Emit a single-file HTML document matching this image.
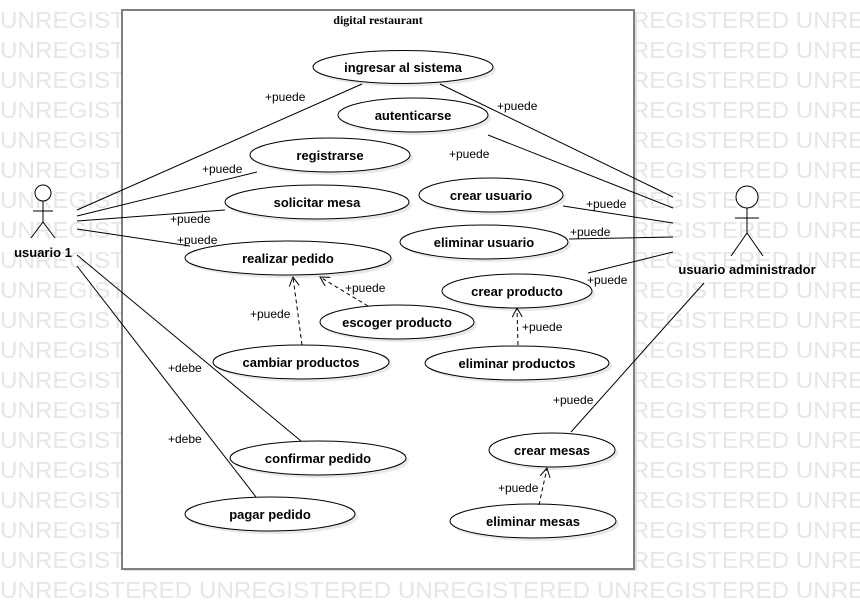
<!DOCTYPE html>
<html><head><meta charset="utf-8"><style>
html,body{margin:0;padding:0;background:#fff;overflow:hidden;}
svg{display:block;}
.wm{font-family:"Liberation Sans",sans-serif;font-size:23px;fill:#e6e6e6;}
.uc{font-family:"Liberation Sans",sans-serif;font-size:13px;font-weight:bold;fill:#000;text-anchor:middle;}
.lb{font-family:"Liberation Sans",sans-serif;font-size:12px;fill:#000;}
</style></head><body>
<svg width="860" height="609" viewBox="0 0 860 609" xmlns="http://www.w3.org/2000/svg">
<defs>
<marker id="ar" markerWidth="12" markerHeight="12" refX="10" refY="6" orient="auto" markerUnits="userSpaceOnUse">
<path d="M1,1 L10,6 L1,11" fill="none" stroke="#000" stroke-width="1"/>
</marker>
</defs>
<g class="wm">
<text x="0" y="28" textLength="988" lengthAdjust="spacingAndGlyphs">UNREGISTERED UNREGISTERED UNREGISTERED UNREGISTERED UNREGISTERED</text>
<text x="0" y="58" textLength="988" lengthAdjust="spacingAndGlyphs">UNREGISTERED UNREGISTERED UNREGISTERED UNREGISTERED UNREGISTERED</text>
<text x="0" y="88" textLength="988" lengthAdjust="spacingAndGlyphs">UNREGISTERED UNREGISTERED UNREGISTERED UNREGISTERED UNREGISTERED</text>
<text x="0" y="118" textLength="988" lengthAdjust="spacingAndGlyphs">UNREGISTERED UNREGISTERED UNREGISTERED UNREGISTERED UNREGISTERED</text>
<text x="0" y="148" textLength="988" lengthAdjust="spacingAndGlyphs">UNREGISTERED UNREGISTERED UNREGISTERED UNREGISTERED UNREGISTERED</text>
<text x="0" y="178" textLength="988" lengthAdjust="spacingAndGlyphs">UNREGISTERED UNREGISTERED UNREGISTERED UNREGISTERED UNREGISTERED</text>
<text x="0" y="208" textLength="988" lengthAdjust="spacingAndGlyphs">UNREGISTERED UNREGISTERED UNREGISTERED UNREGISTERED UNREGISTERED</text>
<text x="0" y="238" textLength="988" lengthAdjust="spacingAndGlyphs">UNREGISTERED UNREGISTERED UNREGISTERED UNREGISTERED UNREGISTERED</text>
<text x="0" y="268" textLength="988" lengthAdjust="spacingAndGlyphs">UNREGISTERED UNREGISTERED UNREGISTERED UNREGISTERED UNREGISTERED</text>
<text x="0" y="298" textLength="988" lengthAdjust="spacingAndGlyphs">UNREGISTERED UNREGISTERED UNREGISTERED UNREGISTERED UNREGISTERED</text>
<text x="0" y="328" textLength="988" lengthAdjust="spacingAndGlyphs">UNREGISTERED UNREGISTERED UNREGISTERED UNREGISTERED UNREGISTERED</text>
<text x="0" y="358" textLength="988" lengthAdjust="spacingAndGlyphs">UNREGISTERED UNREGISTERED UNREGISTERED UNREGISTERED UNREGISTERED</text>
<text x="0" y="388" textLength="988" lengthAdjust="spacingAndGlyphs">UNREGISTERED UNREGISTERED UNREGISTERED UNREGISTERED UNREGISTERED</text>
<text x="0" y="418" textLength="988" lengthAdjust="spacingAndGlyphs">UNREGISTERED UNREGISTERED UNREGISTERED UNREGISTERED UNREGISTERED</text>
<text x="0" y="448" textLength="988" lengthAdjust="spacingAndGlyphs">UNREGISTERED UNREGISTERED UNREGISTERED UNREGISTERED UNREGISTERED</text>
<text x="0" y="478" textLength="988" lengthAdjust="spacingAndGlyphs">UNREGISTERED UNREGISTERED UNREGISTERED UNREGISTERED UNREGISTERED</text>
<text x="0" y="508" textLength="988" lengthAdjust="spacingAndGlyphs">UNREGISTERED UNREGISTERED UNREGISTERED UNREGISTERED UNREGISTERED</text>
<text x="0" y="538" textLength="988" lengthAdjust="spacingAndGlyphs">UNREGISTERED UNREGISTERED UNREGISTERED UNREGISTERED UNREGISTERED</text>
<text x="0" y="568" textLength="988" lengthAdjust="spacingAndGlyphs">UNREGISTERED UNREGISTERED UNREGISTERED UNREGISTERED UNREGISTERED</text>
<text x="0" y="598" textLength="988" lengthAdjust="spacingAndGlyphs">UNREGISTERED UNREGISTERED UNREGISTERED UNREGISTERED UNREGISTERED</text>
</g>
<rect x="124" y="12" width="513" height="559" fill="#e2e2e2"/>
<rect x="122" y="10" width="512" height="559" fill="#fff" stroke="#7f7f7f" stroke-width="2"/>
<text x="378" y="24" text-anchor="middle" font-family="Liberation Serif,serif" font-size="12" font-weight="bold">digital restaurant</text>

<g fill="#e8e8e8">
<ellipse cx="406" cy="70" rx="90" ry="16.5"/>
<ellipse cx="416" cy="118" rx="75" ry="17"/>
<ellipse cx="333" cy="158" rx="80" ry="17"/>
<ellipse cx="320" cy="205" rx="92" ry="17"/>
<ellipse cx="494" cy="198" rx="72" ry="17"/>
<ellipse cx="487" cy="245" rx="84" ry="17"/>
<ellipse cx="291" cy="261" rx="103" ry="17"/>
<ellipse cx="520" cy="294" rx="75" ry="17"/>
<ellipse cx="400" cy="325" rx="77" ry="17"/>
<ellipse cx="304" cy="365" rx="88" ry="17"/>
<ellipse cx="520" cy="366" rx="92" ry="17"/>
<ellipse cx="555" cy="453" rx="63" ry="17"/>
<ellipse cx="321" cy="461" rx="88" ry="17"/>
<ellipse cx="273" cy="517" rx="85" ry="17"/>
<ellipse cx="536" cy="524" rx="83" ry="17"/>
</g>
<g fill="#fff" stroke="#000" stroke-width="1">
<ellipse cx="403" cy="67" rx="90" ry="16.5"/>
<ellipse cx="413" cy="115" rx="75" ry="17"/>
<ellipse cx="330" cy="155" rx="80" ry="17"/>
<ellipse cx="317" cy="202" rx="92" ry="17"/>
<ellipse cx="491" cy="195" rx="72" ry="17"/>
<ellipse cx="484" cy="242" rx="84" ry="17"/>
<ellipse cx="288" cy="258" rx="103" ry="17"/>
<ellipse cx="517" cy="291" rx="75" ry="17"/>
<ellipse cx="397" cy="322" rx="77" ry="17"/>
<ellipse cx="301" cy="362" rx="88" ry="17"/>
<ellipse cx="517" cy="363" rx="92" ry="17"/>
<ellipse cx="552" cy="450" rx="63" ry="17"/>
<ellipse cx="318" cy="458" rx="88" ry="17"/>
<ellipse cx="270" cy="514" rx="85" ry="17"/>
<ellipse cx="533" cy="521" rx="83" ry="17"/>
</g>
<g class="uc">
<text x="403" y="72">ingresar al sistema</text>
<text x="413" y="120">autenticarse</text>
<text x="330" y="160">registrarse</text>
<text x="317" y="207">solicitar mesa</text>
<text x="491" y="200">crear usuario</text>
<text x="484" y="247">eliminar usuario</text>
<text x="288" y="263">realizar pedido</text>
<text x="517" y="296">crear producto</text>
<text x="397" y="327">escoger producto</text>
<text x="301" y="367">cambiar productos</text>
<text x="517" y="368">eliminar productos</text>
<text x="552" y="455">crear mesas</text>
<text x="318" y="463">confirmar pedido</text>
<text x="270" y="519">pagar pedido</text>
<text x="533" y="526">eliminar mesas</text>
</g>

<g stroke="#000" stroke-width="1" fill="none">
<line x1="77" y1="210" x2="362" y2="84"/>
<line x1="77" y1="216" x2="257" y2="172"/>
<line x1="77" y1="221" x2="225" y2="210"/>
<line x1="77" y1="229" x2="190" y2="246"/>
<line x1="77" y1="255" x2="301" y2="441"/>
<line x1="77" y1="266" x2="256" y2="497"/>
<line x1="440" y1="84" x2="673" y2="197"/>
<line x1="488" y1="135" x2="673" y2="208"/>
<line x1="563" y1="206" x2="673" y2="223"/>
<line x1="569" y1="239" x2="673" y2="237"/>
<line x1="588" y1="273" x2="673" y2="252"/>
<line x1="704" y1="283" x2="571" y2="432"/>
</g>
<g stroke="#000" stroke-width="1" fill="none" stroke-dasharray="4,3">
<line x1="302" y1="345" x2="293" y2="277" marker-end="url(#ar)"/>
<line x1="368" y1="306" x2="320" y2="277" marker-end="url(#ar)"/>
<line x1="518" y1="345" x2="517" y2="308" marker-end="url(#ar)"/>
<line x1="539" y1="505" x2="547" y2="468" marker-end="url(#ar)"/>
</g>

<g class="lb">
<text x="265" y="101">+puede</text>
<text x="202" y="173">+puede</text>
<text x="170" y="223">+puede</text>
<text x="177" y="244">+puede</text>
<text x="168" y="372">+debe</text>
<text x="168" y="443">+debe</text>
<text x="497" y="110">+puede</text>
<text x="449" y="158">+puede</text>
<text x="586" y="208">+puede</text>
<text x="570" y="236">+puede</text>
<text x="587" y="284">+puede</text>
<text x="553" y="404">+puede</text>
<text x="250" y="318">+puede</text>
<text x="345" y="292">+puede</text>
<text x="522" y="331">+puede</text>
<text x="498" y="492">+puede</text>
</g>

<g stroke="#000" stroke-width="1" fill="#fff">
<circle cx="43" cy="193" r="8"/>
<line x1="43" y1="201" x2="43" y2="222"/>
<line x1="33" y1="211" x2="53" y2="211"/>
<line x1="43" y1="222" x2="31" y2="238"/>
<line x1="43" y1="222" x2="55" y2="238"/>
<circle cx="747" cy="197" r="11"/>
<line x1="747" y1="208" x2="747" y2="233"/>
<line x1="735" y1="218" x2="759" y2="218"/>
<line x1="747" y1="233" x2="731" y2="256"/>
<line x1="747" y1="233" x2="763" y2="256"/>
</g>
<text x="43" y="257" text-anchor="middle" font-family="Liberation Sans,sans-serif" font-size="13" font-weight="bold">usuario 1</text>
<text x="747" y="274" text-anchor="middle" font-family="Liberation Sans,sans-serif" font-size="13" font-weight="bold">usuario administrador</text>
</svg>
</body></html>
